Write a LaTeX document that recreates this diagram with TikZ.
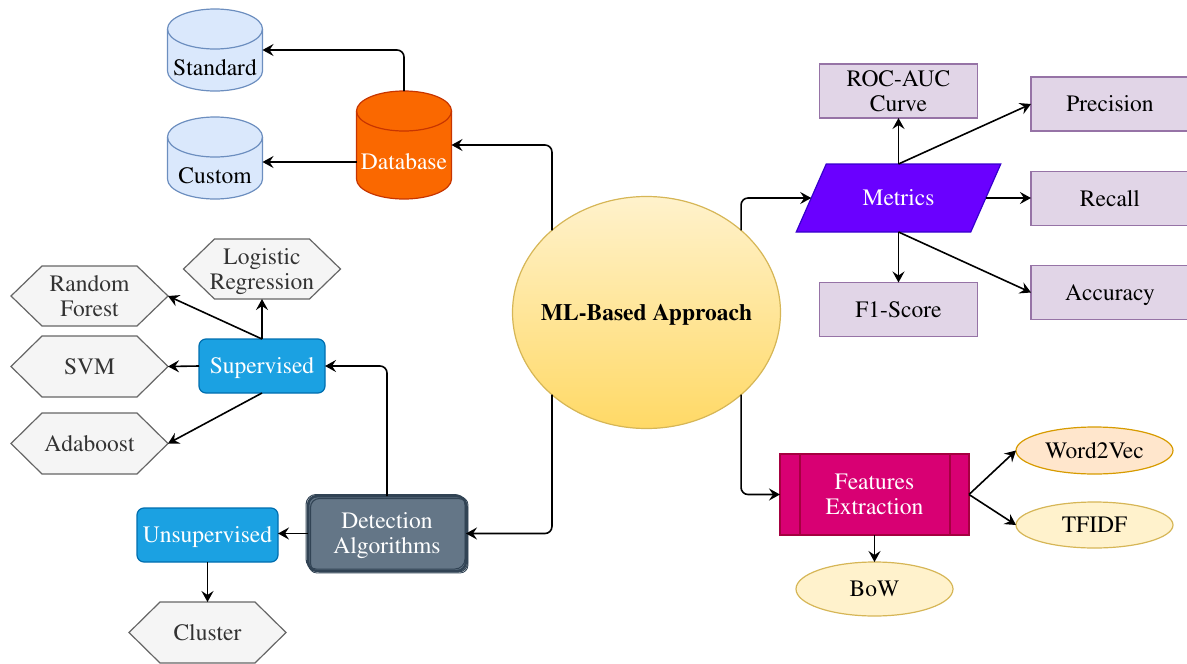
\documentclass[tikz,border=0pt]{standalone}
\usepackage[T1]{fontenc}
\usepackage{mathptmx}
\usetikzlibrary{arrows.meta,shapes.geometric,calc}
\pgfdeclarelayer{bg}\pgfsetlayers{bg,main}
\definecolor{cylfill}{HTML}{DAE8FC}
\definecolor{cylline}{HTML}{6C8EBF}
\definecolor{dbfill}{HTML}{FA6800}
\definecolor{dbline}{HTML}{C73500}
\definecolor{hexfill}{HTML}{F5F5F5}
\definecolor{hexline}{HTML}{666666}
\definecolor{hextext}{HTML}{333333}
\definecolor{bluefill}{HTML}{1BA1E2}
\definecolor{blueline}{HTML}{006EAF}
\definecolor{detfill}{HTML}{647687}
\definecolor{detline}{HTML}{314354}
\definecolor{mltop}{HTML}{FFF2CC}
\definecolor{mlbot}{HTML}{FFD966}
\definecolor{mlline}{HTML}{D6B656}
\definecolor{metfill}{HTML}{6A00FF}
\definecolor{metline}{HTML}{3700CC}
\definecolor{boxfill}{HTML}{E1D5E7}
\definecolor{boxline}{HTML}{9673A6}
\definecolor{fefill}{HTML}{D80073}
\definecolor{feline}{HTML}{A50040}
\definecolor{orfill}{HTML}{FFE6CC}
\definecolor{orline}{HTML}{D79B00}
\tikzset{
  conn/.style={line width=1.6pt, -{Stealth[length=11pt,width=12pt,inset=4pt]}, rounded corners=7pt},
  txt/.style={font=\fontsize{23.5}{25}\selectfont, align=center, inner sep=0pt, outer sep=0pt},
  sl/.style={text height=18pt, text depth=2.4pt},
  hexnode/.style={txt, text=hextext, minimum width=157pt, minimum height=61pt},
  hexshape/.style={fill=hexfill, draw=hexline, line width=1.2pt},
  cylnode/.style={minimum width=95pt, inner sep=0pt, outer sep=0pt},
  bluebox/.style={txt, sl, text=white, fill=bluefill, draw=blueline, line width=1.2pt, rounded corners=7pt},
  purplebox/.style={txt, fill=boxfill, draw=boxline, line width=1.2pt, minimum width=158pt, minimum height=54pt},
  oval/.style={txt, sl, ellipse, line width=1.2pt, minimum width=157pt},
}
\newcommand\nodp[1]{\raisebox{0pt}[\height][0pt]{#1}}
\newcommand\hexdraw[1]{\path[hexshape] (#1.west) -- ([xshift=31pt]#1.north west) -- ([xshift=-31pt]#1.north east) -- (#1.east) -- ([xshift=-31pt]#1.south east) -- ([xshift=31pt]#1.south west) -- cycle;}
\newcommand\cyldraw[5]{%
  \path[fill=#4, draw=#5, line width=1.2pt] ([yshift=-#3pt]#1.north west) -- ([yshift=#3pt]#1.south west)
    arc[start angle=180, end angle=360, x radius=#2pt, y radius=#3pt] -- ([yshift=-#3pt]#1.north east)
    arc[start angle=0, end angle=180, x radius=#2pt, y radius=#3pt] -- cycle;
  \draw[draw=#5, line width=1.2pt] ([yshift=-#3pt]#1.north west) arc[start angle=180, end angle=360, x radius=#2pt, y radius=#3pt];}
\begin{document}
\begin{tikzpicture}[x=1pt,y=1pt]
\useasboundingbox (0,0) rectangle (1187,-664);
% databases
\node[cylnode, minimum height=82pt, label={[txt,sl,yshift=-17.5pt]center:Standard}] (std) at (215,-50) {};
\node[cylnode, minimum height=82pt, label={[txt,sl,yshift=-17.5pt]center:Custom}] (cust) at (215,-158) {};
\node[cylnode, minimum height=108pt, label={[txt,sl,text=white,yshift=-17pt]center:Database}] (db) at (404,-145) {};
% central
\node[txt, sl, ellipse, minimum width=268pt, minimum height=232pt, draw=mlline, line width=1.2pt, top color=mltop, bottom color=mlbot, font=\fontsize{23.5}{25}\selectfont\bfseries] (ml) at (646.5,-312.5) {\makebox[0pt]{ML-Based Approach}};
% left side
\node[hexnode, minimum height=60pt] (lr) at (262,-269) {Logistic\\\nodp{Regression}};
\node[hexnode, minimum height=60pt] (rf) at (89.5,-296) {Random\\Forest};
\node[hexnode, sl] (svm) at (89.5,-366.5) {SVM};
\node[hexnode, sl] (ada) at (89.5,-443.5) {Adaboost};
\node[hexnode, sl] (clu) at (207.5,-632.5) {Cluster};
\node[bluebox, minimum width=126pt, minimum height=54pt] (sup) at (262,-366) {Supervised};
\node[bluebox, minimum width=141pt, minimum height=54pt] (unsup) at (207.5,-535) {Unsupervised};
\node[txt, text=white, fill=detfill, draw=detline, line width=2.4pt, rounded corners=9pt, minimum width=158pt, minimum height=75pt] (det) at (387,-533.5) {Detection\\\nodp{Algorithms}};
\draw[detline, line width=1.1pt, rounded corners=9pt] ([shift={(2.5pt,-2.5pt)}]det.north west) rectangle ([shift={(1.5pt,-1pt)}]det.south east);
\draw[detline, line width=1pt, rounded corners=10pt] ([shift={(-2pt,1.5pt)}]det.north west) rectangle ([shift={(-1pt,2pt)}]det.south east);
\draw[detline, line width=0.8pt, rounded corners=8pt] ([shift={(1pt,-1pt)}]det.north west) rectangle ([shift={(2pt,-2pt)}]det.south east);
% metrics
\node[txt, sl, text=white, minimum width=174.5pt, minimum height=68pt] (met) at (898.5,-198) {Metrics};
\node[purplebox] (roc) at (898.5,-91) {ROC-AUC\\Curve};
\node[purplebox, sl] (prec) at (1110,-104) {Precision};
\node[purplebox, sl] (rec) at (1110,-198.5) {Recall};
\node[purplebox, sl] (acc) at (1110,-292.5) {Accuracy};
\node[purplebox, sl] (f1) at (898.5,-309.5) {F1-Score};
% features
\node[txt, text=white, fill=fefill, draw=feline, line width=1.2pt, minimum width=189pt, minimum height=81pt] (fe) at (874.5,-494.5) {Features\\Extraction};
\draw[feline, line width=1.2pt] ([xshift=20pt]fe.north west) -- ([xshift=20pt]fe.south west);
\draw[feline, line width=1.2pt] ([xshift=-19pt]fe.north east) -- ([xshift=-19pt]fe.south east);
\node[oval, fill=orfill, draw=orline, minimum height=47pt] (w2v) at (1094.5,-450.5) {Word2Vec};
\node[oval, fill=mltop, draw=mlline, minimum height=46pt] (tfidf) at (1094.5,-525) {TFIDF};
\node[oval, fill=mltop, draw=mlline, minimum height=54pt] (bow) at (874.5,-589) {BoW};
% background shapes
\begin{pgfonlayer}{bg}
\cyldraw{std}{47.5}{20}{cylfill}{cylline}
\cyldraw{cust}{47.5}{20}{cylfill}{cylline}
\cyldraw{db}{47.5}{20}{dbfill}{dbline}
\hexdraw{lr}\hexdraw{rf}\hexdraw{svm}\hexdraw{ada}\hexdraw{clu}
\path[fill=metfill, draw=metline, line width=1.2pt] ([xshift=15pt]met.north west) -- ([xshift=15pt]met.north east) -- ([xshift=-15pt]met.south east) -- ([xshift=-15pt]met.south west) -- cycle;
\end{pgfonlayer}
% connectors
\draw[conn] (db.north) |- (std.east);
\draw[conn] ([yshift=-17pt]db.west) -- ([yshift=-17pt]db.west -| cust.east);
\draw[conn] (ml.139) |- (db.east);
\draw[conn] (ml.221) |- (det.east);
\draw[conn] (ml.41) |- (met.west);
\draw[conn] (ml.-41) |- (fe.west);
\draw[conn] (det.north) |- (sup.east);
\draw[conn] (det.west) -- (det.west -| unsup.east);
\draw[conn] (unsup.south) -- (clu.north);
\draw[conn] (sup.north) -- (lr.south);
\draw[conn] (sup.north) -- (rf.east);
\draw[conn] (sup.west) -- (svm.east);
\draw[conn] (sup.south) -- (ada.east);
\draw[conn] (met.north) -- (roc.south);
\draw[conn] (met.north) -- (prec.west);
\draw[conn] (met.east) -- (met.east -| rec.west);
\draw[conn] (met.south) -- (f1.north);
\draw[conn] (met.south) -- (acc.west);
\draw[conn] (fe.east) -- (w2v.west);
\draw[conn] (fe.east) -- (tfidf.west);
\draw[conn] (fe.south) -- (bow.north);
\end{tikzpicture}
\end{document}
